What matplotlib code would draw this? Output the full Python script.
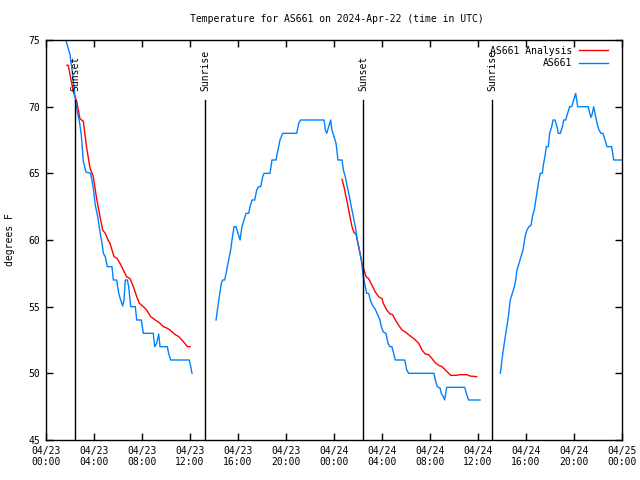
import matplotlib
matplotlib.use("Agg")
import matplotlib.pyplot as plt
import numpy as np

plt.rcParams['font.family'] = ['DejaVu Sans Mono']
FS = 7

# ---- data (hours after 04/23 00:00 UTC, degrees F) ----
blue1_h = [1.65, 2.0, 2.22, 2.44, 2.61, 2.78, 2.94, 3.11, 3.33, 3.72, 3.94, 4.11, 4.28, 4.5, 4.67, 4.78, 4.94, 5.11, 5.5, 5.61,
           5.89, 6.06, 6.22, 6.39, 6.5, 6.61, 6.78, 6.89, 7.06, 7.44, 7.56, 7.94, 8.11, 8.94, 9.06, 9.22, 9.39, 9.5, 10.11, 10.22,
           10.39, 11.94, 12.06, 12.17]
blue1_t = [75.0, 73.9, 72.4, 70.6, 69.6, 68.9, 67.9, 65.9, 65.1, 65.0, 63.9, 62.6, 61.9, 60.6, 59.75, 59.0, 58.75, 58.0, 58.0, 57.0,
           57.0, 56.0, 55.5, 55.05, 55.5, 57.0, 57.0, 56.5, 55.0, 55.0, 54.0, 54.0, 53.0, 53.0, 52.0, 52.25, 52.95, 52.0, 52.0, 51.5,
           51.0, 51.0, 50.5, 50.0]

red1_h = [1.75, 1.85, 2.28, 2.56, 2.83, 3.11, 3.39, 3.67, 3.94, 4.22, 4.5, 4.72, 4.94, 5.17, 5.33, 5.5, 5.67, 5.94, 6.17, 6.44,
          6.72, 7.0, 7.28, 7.56, 7.78, 8.0, 8.39, 8.72, 9.11, 9.5, 9.78, 10.06, 10.33, 10.78, 11.06, 11.33, 11.61, 11.78, 12.0]
red1_t = [73.1, 73.1, 71.1, 70.4, 69.1, 68.9, 66.9, 65.4, 64.75, 63.1, 61.75, 60.75, 60.5, 60.0, 59.75, 59.25, 58.75, 58.6, 58.25, 57.75,
          57.25, 57.1, 56.5, 55.75, 55.25, 55.1, 54.75, 54.25, 54.0, 53.75, 53.5, 53.4, 53.25, 52.9, 52.75, 52.5, 52.2, 52.0, 52.0]

blue2_h = [14.17, 14.28, 14.44, 14.61, 14.72, 14.89, 15.06, 15.22, 15.39, 15.5, 15.67, 15.83, 16.0, 16.17, 16.33, 16.5, 16.67, 16.89, 17.0, 17.17,
           17.39, 17.56, 17.72, 17.89, 18.06, 18.17, 18.67, 18.83, 19.17, 19.33, 19.5, 19.72, 20.89, 21.06, 21.22, 23.17, 23.28, 23.39, 23.56, 23.72,
           23.83, 24.0, 24.17, 24.33, 24.67, 24.78, 24.94, 25.11, 25.28, 25.44, 25.61, 25.78, 25.94, 26.11, 26.28, 26.44, 26.61, 26.72, 26.89, 27.06,
           27.28, 27.44, 27.83, 27.94, 28.11, 28.33, 28.5, 28.67, 28.83, 28.94, 29.11, 29.89, 30.06, 30.22, 32.33, 32.44, 32.61, 32.83, 32.94, 33.11,
           33.22, 33.39, 34.89, 35.06, 35.22, 36.17]
blue2_t = [54.0, 54.75, 55.75, 56.75, 57.0, 57.0, 57.75, 58.5, 59.25, 60.0, 61.0, 61.0, 60.5, 60.0, 61.0, 61.5, 62.0, 62.0, 62.5, 63.0,
           63.0, 63.75, 64.0, 64.0, 64.75, 65.0, 65.0, 66.0, 66.0, 66.75, 67.5, 68.0, 68.0, 68.75, 69.0, 69.0, 68.25, 68.0, 68.5, 69.0,
           68.25, 67.75, 67.25, 66.0, 66.0, 65.25, 64.75, 64.0, 63.25, 62.5, 61.75, 61.0, 60.0, 59.25, 58.5, 57.25, 56.5, 56.0, 56.0, 55.4,
           55.0, 54.8, 54.0, 53.5, 53.1, 53.0, 52.25, 52.0, 52.0, 51.6, 51.0, 51.0, 50.25, 50.0, 50.0, 49.5, 49.0, 48.9, 48.5, 48.25,
           48.0, 48.95, 48.95, 48.4, 48.0, 48.0]

red2_h = [24.67, 24.83, 25.0, 25.17, 25.33, 25.5, 25.67, 25.83, 26.0, 26.17, 26.33, 26.5, 26.67, 26.89, 27.17, 27.44, 27.72, 28.0, 28.11, 28.39,
          28.67, 28.89, 29.11, 29.39, 29.67, 29.94, 30.22, 30.5, 30.72, 31.06, 31.33, 31.61, 31.89, 32.17, 32.44, 32.72, 33.0, 33.28, 33.56, 33.72,
          34.22, 34.5, 35.06, 35.33, 35.89]
red2_t = [64.55, 64.0, 63.25, 62.5, 61.75, 61.0, 60.55, 60.45, 59.75, 59.0, 58.25, 57.75, 57.25, 57.1, 56.6, 56.1, 55.75, 55.6, 55.25, 54.75,
          54.45, 54.4, 54.0, 53.6, 53.25, 53.1, 52.9, 52.7, 52.55, 52.25, 51.75, 51.45, 51.4, 51.1, 50.8, 50.6, 50.5, 50.25, 50.0, 49.85,
          49.85, 49.9, 49.9, 49.8, 49.75]

blue3_h = [37.86, 38.03, 38.19, 38.36, 38.53, 38.69, 38.86, 39.03, 39.14, 39.25, 39.42, 39.58, 39.75, 39.92, 40.08, 40.25, 40.42, 40.53, 40.69, 40.86,
           41.03, 41.19, 41.36, 41.47, 41.58, 41.69, 41.86, 41.97, 42.14, 42.25, 42.42, 42.58, 42.69, 42.86, 43.03, 43.14, 43.31, 43.47, 43.64, 43.81,
           43.97, 44.14, 44.31, 45.19, 45.31, 45.42, 45.53, 45.64, 45.75, 45.92, 46.08, 46.25, 46.42, 46.58, 46.75, 47.14, 47.31, 48.0]
blue3_t = [50.0, 51.25, 52.25, 53.25, 54.25, 55.5, 56.0, 56.5, 57.0, 57.75, 58.25, 58.75, 59.25, 60.25, 60.75, 61.0, 61.1, 61.75, 62.25, 63.25,
           64.25, 65.0, 65.0, 65.75, 66.25, 67.0, 67.0, 68.0, 68.5, 69.0, 69.0, 68.5, 68.0, 68.0, 68.5, 69.0, 69.0, 69.5, 70.0, 70.0,
           70.5, 71.0, 70.0, 70.0, 69.5, 69.2, 69.5, 70.0, 69.5, 68.75, 68.25, 68.0, 68.0, 67.5, 67.0, 67.0, 66.0, 66.0]

event_h = [2.42, 13.25, 26.42, 37.17]
event_names = ["Sunset", "Sunrise", "Sunset", "Sunrise"]

xtick_h = [0, 4, 8, 12, 16, 20, 24, 28, 32, 36, 40, 44, 48]
xtick_labels = ["04/23\n00:00", "04/23\n04:00", "04/23\n08:00", "04/23\n12:00", "04/23\n16:00", "04/23\n20:00",
                "04/24\n00:00", "04/24\n04:00", "04/24\n08:00", "04/24\n12:00", "04/24\n16:00", "04/24\n20:00",
                "04/25\n00:00"]
yticks = [45, 50, 55, 60, 65, 70, 75]

BLUE = "#0080ff"
RED = "#ff0000"

fig = plt.figure(figsize=(6.4, 4.8), dpi=100)
ax = fig.add_axes([46/640, 40/480, 576/640, 400/480])

ax.plot(red1_h, red1_t, color=RED, lw=1, label="AS661 Analysis")
ax.plot(red2_h, red2_t, color=RED, lw=1)
ax.plot(blue1_h, blue1_t, color=BLUE, lw=1, label="AS661")
ax.plot(blue2_h, blue2_t, color=BLUE, lw=1)
ax.plot(blue3_h, blue3_t, color=BLUE, lw=1)

ax.set_xlim(0, 48)
ax.set_ylim(45, 75)

line_top = 70.5
for h, name in zip(event_h, event_names):
    ax.plot([h, h], [45, line_top], color="black", lw=1)
    ax.text(h, 71.2, name, rotation=90, ha="center", va="bottom", fontsize=FS)

ax.set_xticks(xtick_h)
ax.set_xticklabels(xtick_labels, fontsize=FS)
ax.set_yticks(yticks)
ax.set_yticklabels([str(v) for v in yticks], fontsize=FS)
ax.tick_params(direction="in", top=True, right=True, length=5, width=1, pad=4)

for s in ax.spines.values():
    s.set_linewidth(1)

ax.set_ylabel("degrees F", fontsize=FS, labelpad=10)
fig.text(337/640, 1 - 19/480, "Temperature for AS661 on 2024-Apr-22 (time in UTC)",
         ha="center", va="center", fontsize=FS)

ax.legend(loc="upper right", bbox_to_anchor=(1.0 - 7/576, 1.0 + 1/400), frameon=False, markerfirst=False,
          fontsize=FS, handlelength=3.0, handletextpad=0.7, labelspacing=0.25, borderaxespad=0.3)

fig.savefig("out.png", dpi=100)
